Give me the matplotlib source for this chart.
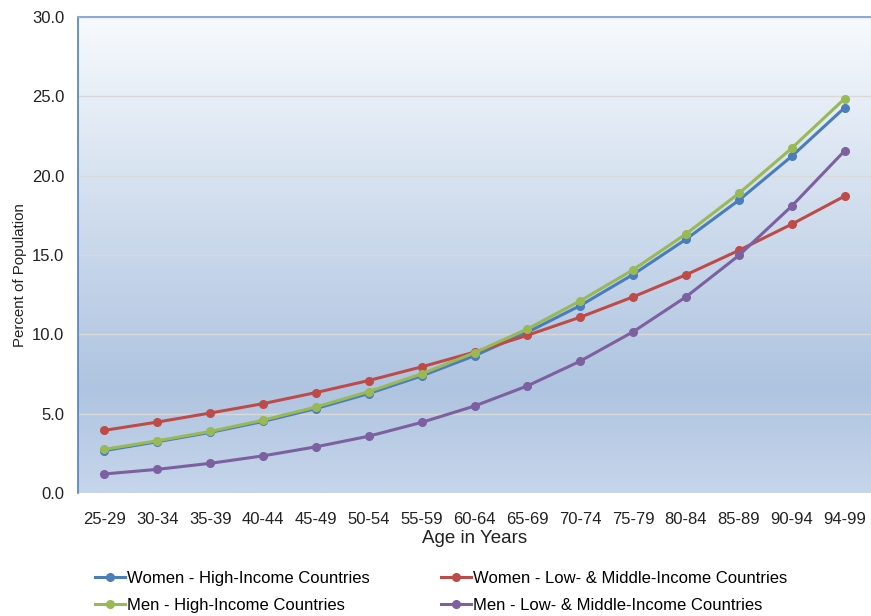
import numpy as np
import matplotlib
matplotlib.use("Agg")
import matplotlib.pyplot as plt
from matplotlib.colors import LinearSegmentedColormap

plt.rcParams['font.family'] = ['Liberation Sans', 'DejaVu Sans']

categories = ["25-29", "30-34", "35-39", "40-44", "45-49", "50-54", "55-59", "60-64",
              "65-69", "70-74", "75-79", "80-84", "85-89", "90-94", "94-99"]
women_high = [2.67, 3.23, 3.82, 4.51, 5.32, 6.27, 7.38, 8.65, 10.13, 11.81, 13.77, 15.99, 18.45, 21.22, 24.28]
women_low = [3.95, 4.47, 5.04, 5.63, 6.33, 7.09, 7.95, 8.88, 9.94, 11.08, 12.36, 13.75, 15.29, 16.94, 18.71]
men_high = [2.75, 3.29, 3.88, 4.59, 5.42, 6.39, 7.51, 8.84, 10.34, 12.11, 14.07, 16.33, 18.88, 21.73, 24.85]
men_low = [1.20, 1.49, 1.87, 2.34, 2.91, 3.58, 4.45, 5.48, 6.75, 8.31, 10.16, 12.36, 14.97, 18.08, 21.56]
yticks = [0, 5, 10, 15, 20, 25, 30]

series = [
    ("Women - High-Income Countries", women_high, "#4A7EBB"),
    ("Women - Low- & Middle-Income Countries", women_low, "#BE4B48"),
    ("Men - High-Income Countries", men_high, "#98B954"),
    ("Men - Low- & Middle-Income Countries", men_low, "#7D60A0"),
]

fig = plt.figure(figsize=(8.71, 6.16), dpi=100)
W, H = 871, 616
ax = fig.add_axes([78 / W, 1 - 493 / H, (871 - 78) / W, (493 - 17) / H])

# gradient background
cmap = LinearSegmentedColormap.from_list(
    "bg", [(0.0, "#C6D6EB"), (0.22, "#AFC4E0"), (0.55, "#CCDAEC"), (1.0, "#F7FAFD")])
grad = np.linspace(0, 1, 256).reshape(-1, 1)
ax.imshow(grad, aspect="auto", cmap=cmap, origin="lower",
          extent=[0, 1, 0, 1], transform=ax.transAxes, zorder=0)

x = np.arange(len(categories))
for label, vals, col in series:
    ax.plot(x, vals, color=col, lw=2.2, marker="o", ms=5.5, label=label, zorder=3)

ax.set_xlim(-0.5, len(categories) - 0.5)
ax.set_ylim(0, 30)
ax.set_yticks(yticks)
ax.set_yticklabels([f"{v:.1f}" for v in yticks], fontsize=12, color="#222222")
ax.set_xticks(x)
ax.set_xticklabels(categories, fontsize=12, color="#222222")
ax.tick_params(axis="x", length=0, pad=14)
ax.tick_params(axis="y", length=0, pad=10)
ax.yaxis.grid(True, color="#D9D9D9", lw=1, zorder=1)
ax.set_axisbelow(True)

for s in ["right", "bottom"]:
    ax.spines[s].set_visible(False)
ax.spines["left"].set_color("#4F81BD")
ax.spines["left"].set_linewidth(1.2)
ax.spines["top"].set_color("#8EAAD4")
ax.spines["top"].set_linewidth(1.5)

ax.set_xlabel("Age in Years", fontsize=13.5, color="#222222", labelpad=2)
ax.set_ylabel("Percent of Population", fontsize=10.8, color="#222222")
ax.yaxis.set_label_coords(-0.064, 0.458)

handles, labels = ax.get_legend_handles_labels()
order = [0, 2, 1, 3]
fig.legend([handles[i] for i in order], [labels[i] for i in order],
           loc="upper left", bbox_to_anchor=(95 / W, 1 - 571 / H), ncol=2,
           frameon=False, fontsize=12, handlelength=1.8, handletextpad=0.12,
           columnspacing=4.3, labelspacing=0.7, borderaxespad=0, borderpad=0)

fig.savefig("out.png", dpi=100)
